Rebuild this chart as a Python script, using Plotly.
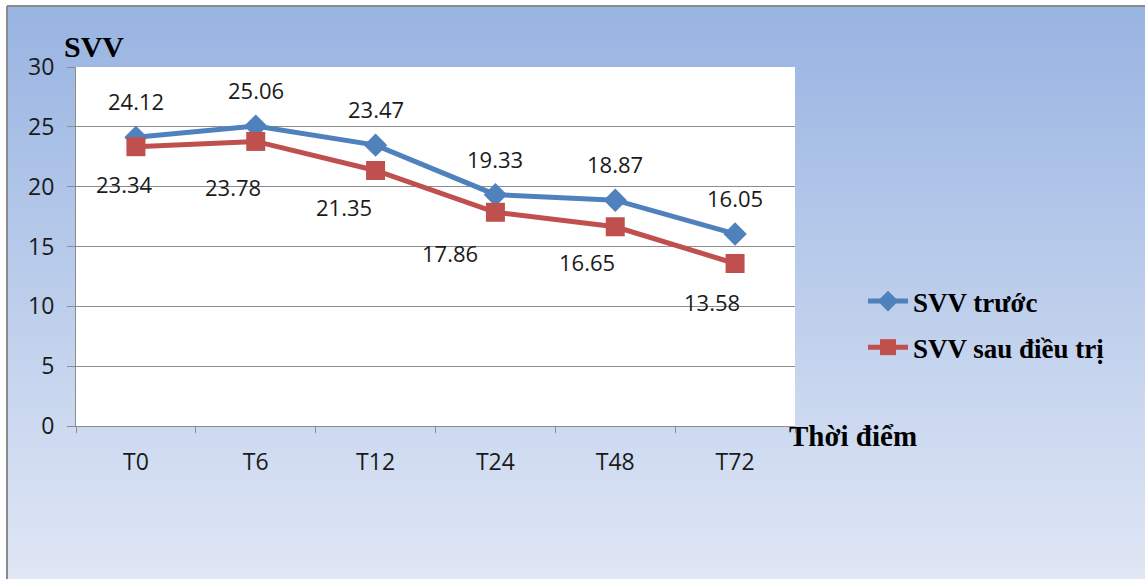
import plotly.graph_objects as go

# Time points and SVV values for the two measurement series
categories = ["T0", "T6", "T12", "T24", "T48", "T72"]
svv_before = [24.12, 25.06, 23.47, 19.33, 18.87, 16.05]
svv_after = [23.34, 23.78, 21.35, 17.86, 16.65, 13.58]
series_names = ["SVV trước", "SVV sau điều trị"]
y_ticks = [0, 5, 10, 15, 20, 25, 30]

BLUE = "#4F81BD"
RED = "#C0504D"
TEXT = "#1a1a1a"
GRID = "#8c8c8c"

W, H = 1145, 579
L, R, T, B = 76, 795, 67, 426  # plot area in pixels


def px_x(px):
    return (px - L) / (R - L)


def px_y(py):
    return (B - py) / (B - T)


fig = go.Figure()
fig.add_trace(go.Scatter(
    x=categories, y=svv_before, name=series_names[0], mode="lines+markers",
    line=dict(color=BLUE, width=5),
    marker=dict(symbol="diamond", size=18, color=BLUE),
    legendgroup="a",
))
fig.add_trace(go.Scatter(
    x=categories, y=svv_after, name=series_names[1], mode="lines+markers",
    line=dict(color=RED, width=5),
    marker=dict(symbol="square", size=19, color=RED),
    legendgroup="b",
))

# Value labels
label_font = dict(family="Open Sans", size=22, color=TEXT)
for c, v in zip(categories, svv_before):
    fig.add_annotation(x=c, y=v, text=f"{v:.2f}", showarrow=False,
                       yshift=36, font=label_font)
after_dx = [-11, -23, -32, -45, -28, -23]
after_dy = [-37, -46, -36, -41, -35, -39]
for c, v, dx, dy in zip(categories, svv_after, after_dx, after_dy):
    fig.add_annotation(x=c, y=v, text=f"{v:.2f}", showarrow=False,
                       xshift=dx, yshift=dy, font=label_font)

# Axis titles
title_font = dict(family="Liberation Serif", size=30, color="#000000")
fig.add_annotation(xref="paper", yref="paper", x=px_x(94), y=px_y(47),
                   text="<b>SVV</b>", showarrow=False, font=title_font,
                   xanchor="center", yanchor="middle")
fig.add_annotation(xref="paper", yref="paper", x=px_x(787), y=px_y(436),
                   text="<b>Thời điểm</b>", showarrow=False,
                   font=dict(family="Liberation Serif", size=29, color="#000000"),
                   xanchor="left", yanchor="middle")

# Vertical gradient background inside the chart frame
shapes = []
top_c = (152, 180, 226)
bot_c = (224, 231, 245)
y0, y1 = 6, H
step = 4
y = y0
while y < y1:
    f = (y - y0) / (y1 - y0)
    col = tuple(round(a + (b - a) * f) for a, b in zip(top_c, bot_c))
    shapes.append(dict(type="rect", xref="paper", yref="paper", layer="below",
                       x0=px_x(7), x1=px_x(W + 2), y0=px_y(y), y1=px_y(min(y + step + 1, y1 + 2)),
                       line=dict(width=0), fillcolor="rgb(%d,%d,%d)" % col))
    y += step
# Frame lines
shapes.append(dict(type="line", xref="paper", yref="paper", layer="below",
                   x0=px_x(7), x1=px_x(W + 2), y0=px_y(6), y1=px_y(6),
                   line=dict(color="#8a8a8a", width=2)))
shapes.append(dict(type="line", xref="paper", yref="paper", layer="below",
                   x0=px_x(7), x1=px_x(7), y0=px_y(6), y1=px_y(H + 2),
                   line=dict(color="#8a8a8a", width=2)))
# White plotting area
shapes.append(dict(type="rect", xref="paper", yref="paper", layer="below",
                   x0=0, x1=1, y0=0, y1=1, line=dict(width=0), fillcolor="white"))

fig.update_layout(
    width=W, height=H, autosize=False,
    margin=dict(l=L, r=W - R, t=T, b=H - B, pad=0),
    paper_bgcolor="white", plot_bgcolor="white",
    shapes=shapes,
    showlegend=True,
    legend=dict(x=px_x(863), y=px_y(277), xanchor="left", yanchor="top",
                bgcolor="rgba(0,0,0,0)", traceorder="grouped", tracegroupgap=8,
                font=dict(family="Liberation Serif", size=27, color="#000000",
                          weight="bold"),
                itemwidth=40),
    xaxis=dict(type="category", range=[-0.5, 5.5], tickson="boundaries",
               ticks="outside", ticklen=6, tickcolor=GRID, showgrid=False,
               showline=True, linecolor=GRID, linewidth=1,
               tickfont=dict(family="Open Sans", size=23, color=TEXT),
               ticklabelstandoff=15, zeroline=False),
    yaxis=dict(range=[0, 30], tickvals=y_ticks, ticks="outside", ticklen=8,
               tickcolor=GRID, showgrid=True, gridcolor=GRID, gridwidth=1,
               showline=True, linecolor=GRID, linewidth=1, zeroline=False,
               tickfont=dict(family="Open Sans", size=23, color=TEXT),
               ticklabelstandoff=8),
    font=dict(family="Open Sans"),
)

fig.write_html("out.html")
